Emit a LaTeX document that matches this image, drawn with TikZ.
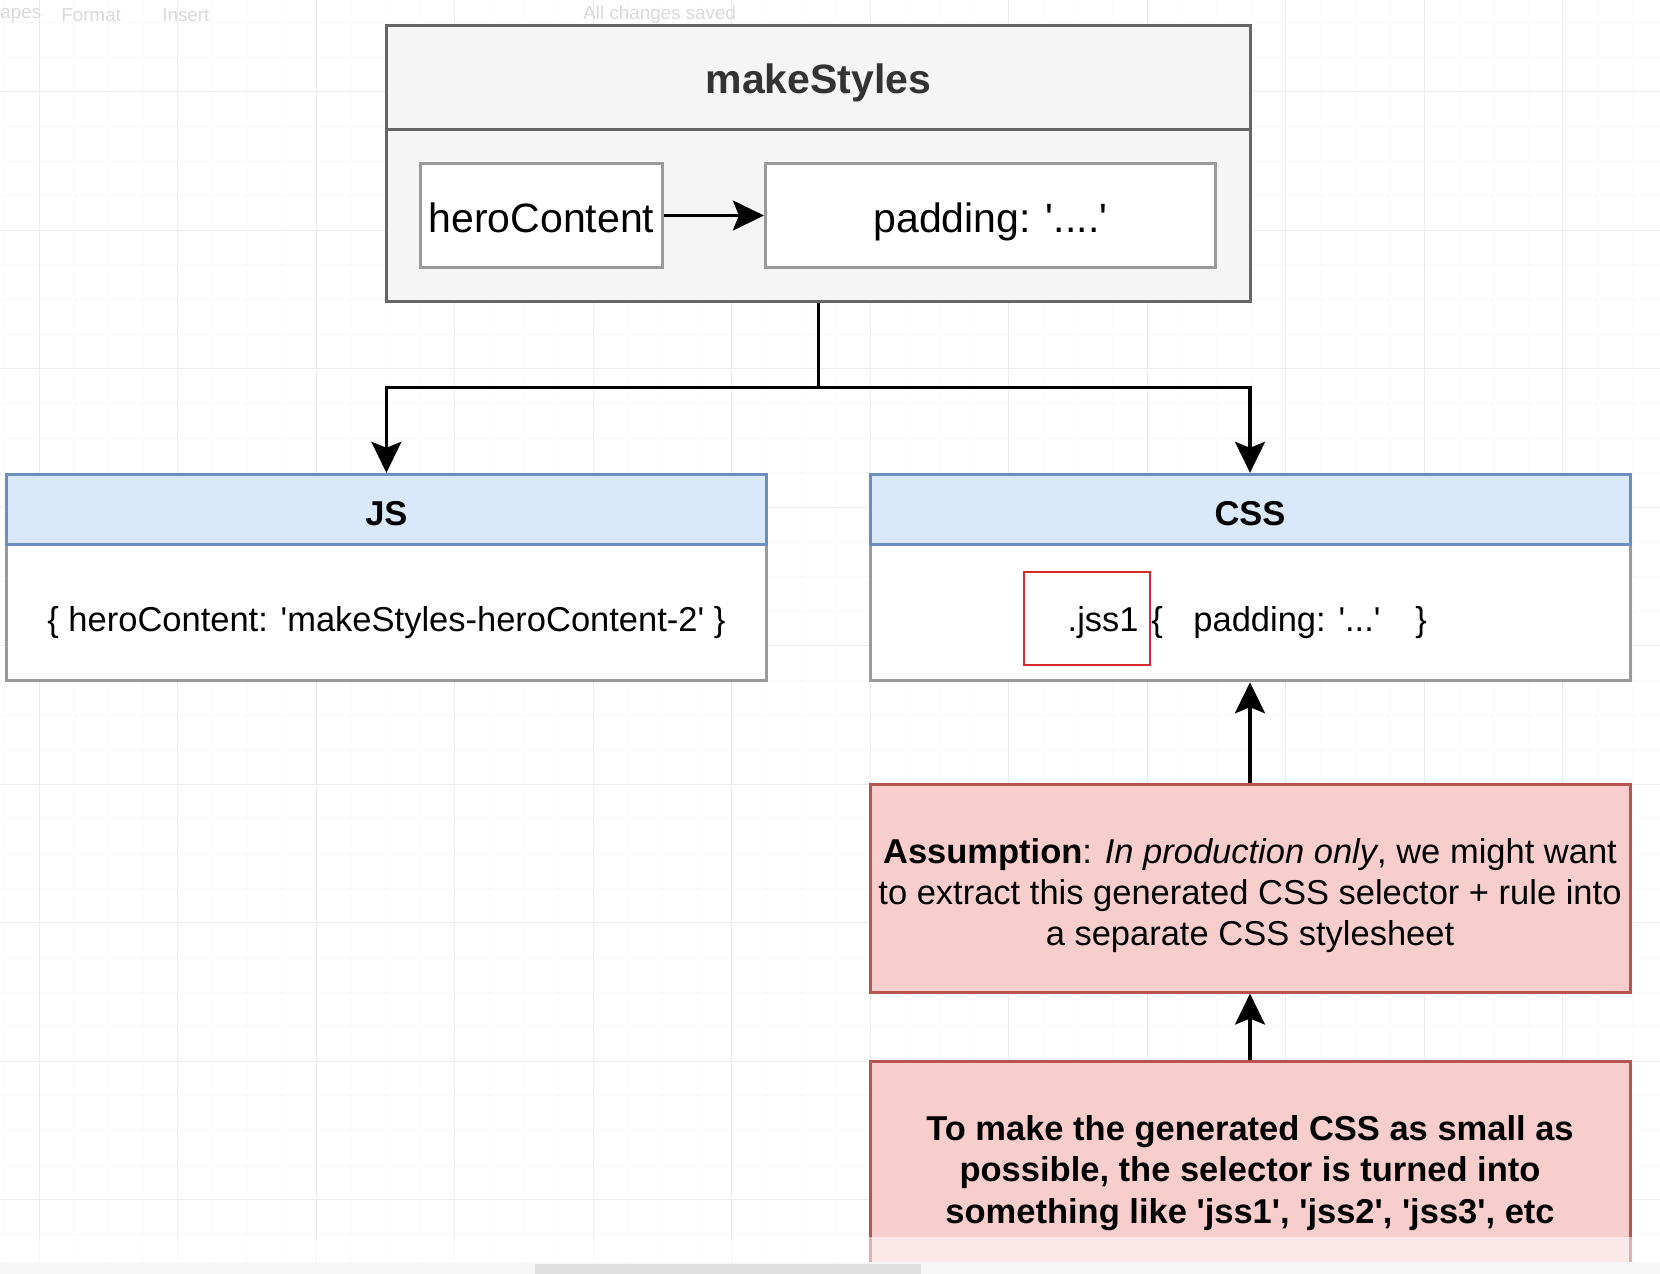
\documentclass[tikz,border=0pt]{standalone}
\usepackage{fontspec}
\setmainfont{Liberation Sans}[Ligatures=TeXOff]
\usetikzlibrary{arrows.meta}
\definecolor{gridmaj}{HTML}{ECECEC}
\definecolor{gridmin}{HTML}{F9F9F9}
\definecolor{msfill}{HTML}{F5F5F5}
\definecolor{msline}{HTML}{666666}
\definecolor{inline}{HTML}{9A9A9A}
\definecolor{bluefill}{HTML}{DAE8FC}
\definecolor{blueline}{HTML}{6C8EBF}
\definecolor{pinkfill}{HTML}{F8CECC}
\definecolor{pinkline}{HTML}{B85450}
\definecolor{selred}{HTML}{D42A2A}
\definecolor{titlegrey}{HTML}{333333}
\definecolor{uigrey}{HTML}{DADADA}
\newcommand\fbig{\fontsize{20.5}{24.6}\selectfont}
\newcommand\fmid{\fontsize{17.25}{20.7}\selectfont}
\newcommand\fui{\fontsize{9.4}{11}\selectfont}
\tikzset{
  minorgrid/.style={draw=gridmin, line width=0.5pt},
  majorgrid/.style={draw=gridmaj, line width=0.5pt},
  grey box/.style={rectangle, draw=msline, fill=msfill, line width=1.5pt, inner sep=0pt},
  inner box/.style={rectangle, draw=inline, fill=white, line width=1.5pt, inner sep=0pt,
    font=\fbig, text height=16.5pt, text depth=0pt},
  blue head/.style={rectangle, draw=blueline, fill=bluefill, line width=1.5pt, inner sep=0pt,
    font=\fmid\bfseries, text height=15.7pt, text depth=0pt},
  white body/.style={rectangle, draw=inline, fill=white, line width=1.5pt, inner sep=0pt,
    font=\fmid, text height=18.5pt, text depth=0pt},
  pink box/.style={rectangle, draw=pinkline, fill=pinkfill, line width=1.5pt, inner sep=0pt},
  sel box/.style={rectangle, draw=selred, line width=1pt, inner sep=0pt},
  plain text/.style={inner sep=0pt, font=\fmid},
  ui text/.style={inner sep=0pt, font=\fui, text=uigrey},
  conn/.style={draw=black, line width=1.6pt},
  arr/.style={conn, -{Stealth[length=15.5pt, width=15pt, inset=3pt]}},
}
\begin{document}
\begin{tikzpicture}[x=0.5pt, y=-0.5pt]
\useasboundingbox (0,0) rectangle (1660,1274);
\clip (0,0) rectangle (1660,1274);
\fill[white] (0,0) rectangle (1660,1274);
% background grid
\foreach \i in {0,...,48} { \draw[minorgrid] ({4.8+34.625*\i},0) -- ({4.8+34.625*\i},1274); }
\foreach \i in {0,...,37} { \draw[minorgrid] (0,{22.6+34.625*\i}) -- (1660,{22.6+34.625*\i}); }
\foreach \i in {0,...,11} { \draw[majorgrid] ({39.4+138.5*\i},0) -- ({39.4+138.5*\i},1274); }
\foreach \i in {0,...,9} { \draw[majorgrid] (0,{91.8+138.5*\i}) -- (1660,{91.8+138.5*\i}); }
% faint toolbar
\node[ui text, anchor=west] (tb1) at (0,15) {apes};
\node[ui text, anchor=west] (tb2) at (61,15) {Format};
\node[ui text, anchor=west] (tb3) at (162,15) {Insert};
\node[ui text, anchor=west] (tb4) at (583,15) {All changes saved};
% makeStyles container
\node[grey box, minimum width=432pt, minimum height=86.25pt] (msbody) at (818.4,215.5) {};
\node[grey box, minimum width=432pt, minimum height=51.9pt, font=\fbig\bfseries,
      text=titlegrey, text height=16pt, text depth=0pt] (mshead) at (818.4,77.3) {makeStyles};
\node[inner box, minimum width=121.2pt, minimum height=52.45pt] (hero) at (541.5,215.5) {heroContent};
\node[inner box, minimum width=225pt, minimum height=52.45pt] (pad) at (990.4,215.5) {padding: '....'};
% JS
\node[white body, minimum width=380pt, minimum height=68.25pt] (jsbody) at (386.4,612.5)
  {\{ heroContent: 'makeStyles-heroContent-2' \}};
\node[blue head, minimum width=380pt, minimum height=35pt] (jshead) at (386.4,509.3) {JS};
% CSS
\node[white body, minimum width=380pt, minimum height=68.25pt] (csbody) at (1250,612.5) {};
\node[blue head, minimum width=380pt, minimum height=35pt] (cshead) at (1250,509.3) {CSS};
\node[sel box, minimum width=63pt, minimum height=46.5pt] (redbox) at (1086.8,618.5) {};
\node[plain text, anchor=base east] (jss) at (1139,631) {.jss1};
\node[plain text, anchor=base] (lbrace) at (1157,631) {\{};
\node[plain text, anchor=base west] (padtxt) at (1193,631) {padding: '...'};
\node[plain text, anchor=base] (rbrace) at (1421,631) {\}};
% pink notes
\node[pink box, minimum width=380pt, minimum height=103.75pt] (assump) at (1250,888.3) {};
\node[plain text, align=center] (assumtxt) at (1250,896.3)
  {\strut\textbf{Assumption}: \textit{In production only}, we might want\\
   to extract this generated CSS selector + rule into\\
   a separate CSS stylesheet\strut};
\node[pink box, minimum width=380pt, minimum height=119.65pt] (small) at (1250,1180.65) {};
\node[plain text, align=center, font=\fmid\bfseries] (smalltxt) at (1250,1173.4)
  {\strut To make the generated CSS as small as\\
   possible, the selector is turned into\\
   something like 'jss1', 'jss2', 'jss3', etc\strut};
% connectors
\coordinate (junc) at (818.4,387.5);
\draw[conn] (msbody.south) -- (junc);
\draw[arr] (junc) -| (jshead.north);
\draw[arr] (junc) -| (cshead.north);
\draw[arr] (hero.east) -- (pad.west);
\draw[arr] (assump.north) -- (csbody.south);
\draw[arr] (small.north) -- (assump.south);
% bottom UI band
\fill[white, opacity=0.55] (0,1237) rectangle (1660,1262);
\fill[white!97!black] (0,1262) rectangle (1660,1274);
\fill[white!88!black] (535,1264) rectangle (921,1274);
\end{tikzpicture}
\end{document}
